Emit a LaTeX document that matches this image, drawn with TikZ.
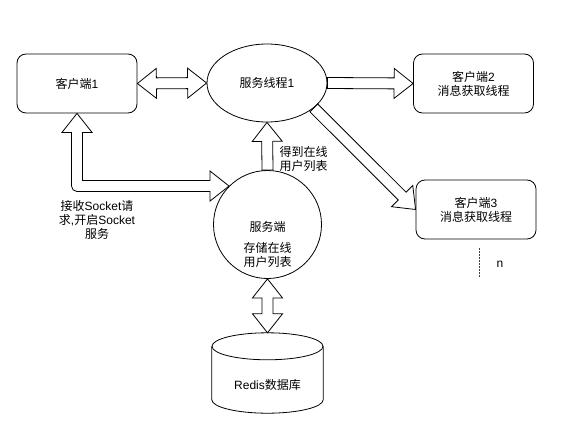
\documentclass[tikz,border=0pt]{standalone}
\usepackage{fontspec}
\setmainfont{Liberation Sans}
\newfontfamily\cjk{Noto Sans CJK SC}
\usetikzlibrary{calc,shapes.geometric}
\tikzset{
  base/.style={line width=0.8pt, draw=black},
  box/.style={base, rounded corners=9pt, minimum width=120pt, minimum height=59pt, align=center, inner sep=0pt},
  fat/.style={base, fill=white, line join=miter},
  txt/.style={font=\fontsize{12}{14}\selectfont, text=black},
}
% single fat arrow: from, to, half shaft, half head, head length
\newcommand\fatone[5]{%
  \draw[fat] ($(#1)!#3!90:(#2)$) -- ($(#2)!#5!(#1)!#3!90:(#2)$) -- ($(#2)!#5!(#1)!#4!90:(#2)$) -- (#2)
    -- ($(#2)!#5!(#1)!#4!-90:(#2)$) -- ($(#2)!#5!(#1)!#3!-90:(#2)$) -- ($(#1)!#3!-90:(#2)$) -- cycle;}
% double fat arrow
\newcommand\fattwo[5]{%
  \draw[fat] (#1) -- ($(#1)!#5!(#2)!#4!90:(#2)$) -- ($(#1)!#5!(#2)!#3!90:(#2)$)
    -- ($(#2)!#5!(#1)!#3!90:(#2)$) -- ($(#2)!#5!(#1)!#4!90:(#2)$) -- (#2)
    -- ($(#2)!#5!(#1)!#4!-90:(#2)$) -- ($(#2)!#5!(#1)!#3!-90:(#2)$)
    -- ($(#1)!#5!(#2)!#3!-90:(#2)$) -- ($(#1)!#5!(#2)!#4!-90:(#2)$) -- cycle;}
\begin{document}
\begin{tikzpicture}[x=1pt, y=-1pt, every node/.style={txt}]
\useasboundingbox (0,0) rectangle (569,441);
\fill[white] (0,0) rectangle (569,441);

% nodes
\node[box] (c1) at (77,83.5) {{\cjk 客户端}1};
\node[base, draw, ellipse, minimum width=120pt, minimum height=78pt, inner sep=0pt] (t1) at (267,83) {{\cjk 服务线程}1};
\node[box] (c2) at (473.5,83.5) {{\cjk 客户端}2\\{\cjk 消息获取线程}};
\node[box] (c3) at (476,209.5) {{\cjk 客户端}3\\{\cjk 消息获取线程}};
\node[base, draw, circle, minimum size=108pt, inner sep=0pt] (srv) at (267.5,224.5) {};
\node[align=center] (srvt) at (267.5,244) {{\cjk 服务端}\\[7pt]{\cjk 存储在线}\\{\cjk 用户列表}};

% database cylinder
\node[minimum width=111pt, minimum height=80pt, inner sep=0pt] (db) at (267.5,373) {};
\draw[base, fill=white] ($(db.north west)+(0,13.5)$) -- ($(db.south west)+(0,-13.5)$)
  .. controls ($(db.south west)+(0,-6.04)$) and ($(db.south)+(-30.65,0)$) .. (db.south)
  .. controls ($(db.south)+(30.65,0)$) and ($(db.south east)+(0,-6.04)$) .. ($(db.south east)+(0,-13.5)$)
  -- ($(db.north east)+(0,13.5)$);
\draw[base] ($(db.north)+(0,13.5)$) ellipse [x radius=55.5pt, y radius=13.5pt];
\node (dbt) at ($(db.center)+(0,12)$) {Redis{\cjk 数据库}};

% labels
\node[align=left, anchor=west] (lbl1) at (276,159) {{\cjk 得到在线}\\{\cjk 用户列表}};
\node[align=center] (lbl2) at (97,220) {{\cjk 接收}Socket{\cjk 请}\\{\cjk 求},{\cjk 开启}Socket\\{\cjk 服务}};
\node (nl) at (500,264) {n};

% fat arrows
\fattwo{c1.east}{t1.west}{5.5pt}{15pt}{19pt}
\fatone{t1.east}{c2.west}{5.5pt}{15pt}{19pt}
\fatone{t1.-28.5}{c3.west}{5.5pt}{15pt}{19pt}
\fatone{srv.north}{t1.south}{5.5pt}{15pt}{19pt}
\fattwo{srv.south}{db.north}{5.5pt}{15pt}{19pt}

% elbow double arrow client1 <-> server
\coordinate (T) at (srv.135);
\coordinate (K) at (c1.south |- T);
\draw[fat] (c1.south) -- ($(c1.south)+(15,19)$) -- ($(c1.south)+(5.5,19)$) -- ($(K)+(5.5,-5.5)$)
  -- ($(T)+(-19,-5.5)$) -- ($(T)+(-19,-15)$) -- (T) -- ($(T)+(-19,15)$) -- ($(T)+(-19,5.5)$)
  -- ($(K)+(0,5.5)$) .. controls ($(K)+(-3.04,5.5)$) and ($(K)+(-5.5,3.04)$) .. ($(K)+(-5.5,0)$)
  -- ($(c1.south)+(-5.5,19)$) -- ($(c1.south)+(-15,19)$) -- cycle;

% dotted continuation
\coordinate (d1) at (479,248);
\coordinate (d2) at (479,278);
\draw[line width=1pt, dash pattern=on 1.5pt off 1.5pt, draw=black!75] (d1) -- (d2);
\end{tikzpicture}
\end{document}
